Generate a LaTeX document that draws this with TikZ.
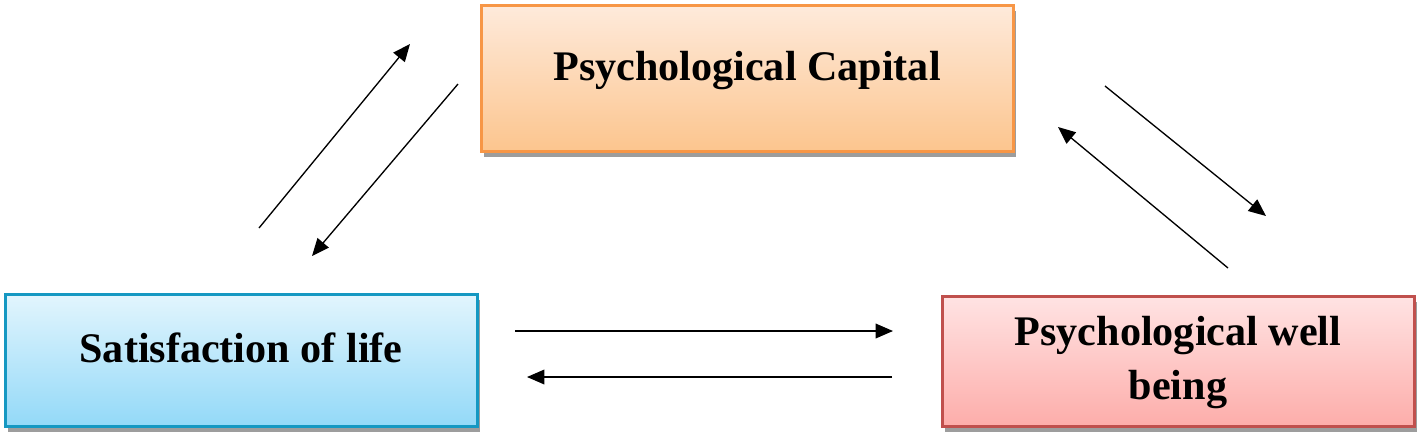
\documentclass[tikz,border=0pt]{standalone}
\usepackage{fontspec}
\setmainfont{Liberation Serif}
\usetikzlibrary{arrows.meta,shadows}
\definecolor{pcborder}{HTML}{F79646}
\definecolor{pctop}{HTML}{FEEADB}
\definecolor{pcbot}{HTML}{FCC58E}
\definecolor{slborder}{HTML}{1598C2}
\definecolor{sltop}{HTML}{E2F5FD}
\definecolor{slbot}{HTML}{93D9F8}
\definecolor{pwborder}{HTML}{C0504D}
\definecolor{pwtop}{HTML}{FFE3E3}
\definecolor{pwbot}{HTML}{FDADAA}
\tikzset{
  box/.style={draw, line width=2pt, anchor=north west, inner sep=0pt,
    drop shadow={shadow xshift=2pt, shadow yshift=-4pt, fill=black!45, opacity=0.85}},
  lbl/.style={font=\fontsize{31.6}{40.5}\selectfont\bfseries, anchor=base, align=center, inner sep=0pt},
  arr/.style={line width=1pt, -{Triangle[length=13pt,width=11pt]}}
}
\begin{document}
\begin{tikzpicture}[x=0.75pt,y=-0.75pt]
\useasboundingbox (0,0) rectangle (1421,437);
% boxes
\node[box, draw=pcborder, top color=pctop, bottom color=pcbot,
      minimum width=532*0.75pt, minimum height=146*0.75pt] (pc) at (480,4) {};
\node[box, draw=slborder, top color=sltop, bottom color=slbot,
      minimum width=472*0.75pt, minimum height=132*0.75pt] (sl) at (4,293) {};
\node[box, draw=pwborder, top color=pwtop, bottom color=pwbot,
      minimum width=472*0.75pt, minimum height=130*0.75pt] (pw) at (941,295) {};
% texts
\node[lbl] (pct) at (747,80) {Psychological Capital};
\node[lbl] (slt) at (241,362) {Satisfaction of life};
\node[lbl, anchor=north] (pwt) at (1178,316) {Psychological well\\being};
% arrow end points
\coordinate (a1s) at (259,228); \coordinate (a1e) at (410,44);
\coordinate (a2s) at (458,84);  \coordinate (a2e) at (312,256);
\coordinate (a3s) at (1105,86); \coordinate (a3e) at (1266,216);
\coordinate (a4s) at (1228,268);\coordinate (a4e) at (1058,127);
\coordinate (a5s) at (515,331); \coordinate (a5e) at (893,331);
\coordinate (a6s) at (892,377); \coordinate (a6e) at (527,377);
\draw[arr] (a1s) -- (a1e);
\draw[arr] (a2s) -- (a2e);
\draw[arr] (a3s) -- (a3e);
\draw[arr] (a4s) -- (a4e);
\draw[arr] (a5s) -- (a5e);
\draw[arr] (a6s) -- (a6e);
\end{tikzpicture}
\end{document}
